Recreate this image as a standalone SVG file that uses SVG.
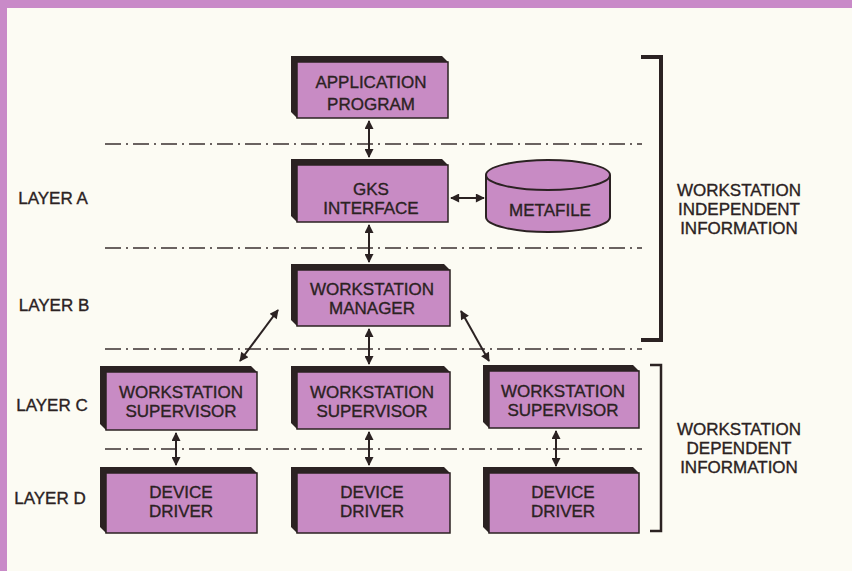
<svg xmlns="http://www.w3.org/2000/svg" width="852" height="571" viewBox="0 0 852 571">
<defs>
<style>
.bk{fill:#2b2222}
.fc{fill:#c88bc4;stroke:#2b2222;stroke-width:1.5}
.t{font-family:"Liberation Sans",Arial,sans-serif;font-size:17px;fill:#2b2222;stroke:#2b2222;stroke-width:0.35;text-anchor:middle}
.dd{stroke:#3a3030;stroke-width:1.6;stroke-dasharray:16 5 2 5;fill:none}
.ar{stroke:#2b2222;stroke-width:2;fill:none;marker-start:url(#ah);marker-end:url(#ah)}
.br{stroke:#2b2222;fill:none}
</style>
<marker id="ah" viewBox="0 0 10 10" refX="9" refY="5" markerWidth="11" markerHeight="9" markerUnits="userSpaceOnUse" orient="auto-start-reverse">
<path d="M0,0 L10,5 L0,10 z" fill="#2b2222"/>
</marker>
</defs>
<rect x="0" y="0" width="852" height="571" fill="#fcfbf3"/>
<rect x="0" y="0" width="852" height="8" fill="#c98ac8"/>
<rect x="0" y="0" width="7" height="571" fill="#c98ac8"/>

<g id="dividers">
<line class="dd" x1="105" y1="144" x2="642" y2="144"/>
<line class="dd" x1="105" y1="248" x2="642" y2="248"/>
<line class="dd" x1="105" y1="349" x2="642" y2="349"/>
<line class="dd" x1="105" y1="449" x2="642" y2="449"/>
</g>

<g id="connectors">
<line class="ar" x1="369" y1="121" x2="369" y2="157"/>
<line class="ar" x1="369" y1="225" x2="369" y2="262"/>
<line class="ar" x1="451" y1="198" x2="484" y2="198"/>
<line class="ar" x1="369" y1="329" x2="369" y2="364"/>
<line class="ar" x1="278" y1="310" x2="240" y2="361"/>
<line class="ar" x1="461" y1="311" x2="489" y2="361"/>
<line class="ar" x1="176" y1="433" x2="176" y2="465"/>
<line class="ar" x1="369" y1="432" x2="369" y2="465"/>
<line class="ar" x1="556" y1="431" x2="556" y2="466"/>
</g>

<g id="app">
<path class="bk" d="M291,56 H442 L448,62 V118 H297 L291,112 Z"/>
<rect class="fc" x="297" y="62" width="151" height="56"/>
<text class="t" x="371" y="88">APPLICATION</text>
<text class="t" x="371" y="110">PROGRAM</text>
</g>

<g id="gks">
<path class="bk" d="M291,159 H442 L448,165 V222 H297 L291,216 Z"/>
<rect class="fc" x="297" y="165" width="151" height="57"/>
<text class="t" x="371" y="195">GKS</text>
<text class="t" x="371" y="214">INTERFACE</text>
</g>

<g id="metafile">
<path d="M486,175 V217 A62,15 0 0 0 610,217 V175" fill="#c88bc4" stroke="#2b2222" stroke-width="2"/>
<ellipse cx="548" cy="175" rx="62" ry="15" fill="#c88bc4" stroke="#2b2222" stroke-width="2"/>
<text class="t" x="550" y="216">METAFILE</text>
</g>

<g id="manager">
<path class="bk" d="M291,264 H444 L450,270 V326 H297 L291,320 Z"/>
<rect class="fc" x="297" y="270" width="153" height="56"/>
<text class="t" x="372" y="295">WORKSTATION</text>
<text class="t" x="372" y="314">MANAGER</text>
</g>

<g id="supL">
<path class="bk" d="M100,366 H251 L257,372 V430 H106 L100,424 Z"/>
<rect class="fc" x="106" y="372" width="151" height="58"/>
<text class="t" x="181" y="398">WORKSTATION</text>
<text class="t" x="181" y="417">SUPERVISOR</text>
</g>

<g id="supM">
<path class="bk" d="M291,366 H444 L450,372 V429 H297 L291,423 Z"/>
<rect class="fc" x="297" y="372" width="153" height="57"/>
<text class="t" x="372" y="398">WORKSTATION</text>
<text class="t" x="372" y="417">SUPERVISOR</text>
</g>

<g id="supR">
<path class="bk" d="M483,365 H633 L639,371 V428 H489 L483,422 Z"/>
<rect class="fc" x="489" y="371" width="150" height="57"/>
<text class="t" x="563" y="397">WORKSTATION</text>
<text class="t" x="563" y="416">SUPERVISOR</text>
</g>

<g id="drvL">
<path class="bk" d="M100,467 H251 L257,473 V533 H106 L100,527 Z"/>
<rect class="fc" x="106" y="473" width="151" height="60"/>
<text class="t" x="181" y="498">DEVICE</text>
<text class="t" x="181" y="517">DRIVER</text>
</g>

<g id="drvM">
<path class="bk" d="M291,467 H444 L450,473 V533 H297 L291,527 Z"/>
<rect class="fc" x="297" y="473" width="153" height="60"/>
<text class="t" x="372" y="498">DEVICE</text>
<text class="t" x="372" y="517">DRIVER</text>
</g>

<g id="drvR">
<path class="bk" d="M483,467 H633 L639,473 V533 H489 L483,527 Z"/>
<rect class="fc" x="489" y="473" width="150" height="60"/>
<text class="t" x="563" y="498">DEVICE</text>
<text class="t" x="563" y="517">DRIVER</text>
</g>

<g id="layers">
<text class="t" x="53" y="204">LAYER A</text>
<text class="t" x="54" y="311">LAYER B</text>
<text class="t" x="52" y="411">LAYER C</text>
<text class="t" x="50" y="504">LAYER D</text>
</g>

<g id="bracketTop">
<path class="br" stroke-width="4" d="M641,57 H661 V340 H641"/>
<text class="t" x="739" y="196">WORKSTATION</text>
<text class="t" x="739" y="215">INDEPENDENT</text>
<text class="t" x="739" y="234">INFORMATION</text>
</g>

<g id="bracketBottom">
<path class="br" stroke-width="2.5" d="M650,365 H661 V531 H650"/>
<text class="t" x="739" y="435">WORKSTATION</text>
<text class="t" x="739" y="454">DEPENDENT</text>
<text class="t" x="739" y="473">INFORMATION</text>
</g>
</svg>
